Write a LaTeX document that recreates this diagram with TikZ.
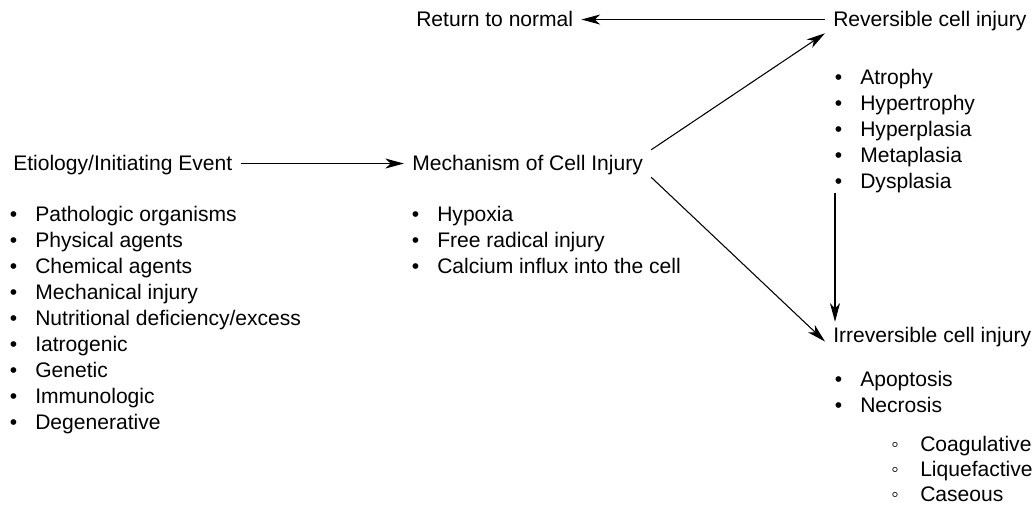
\documentclass[tikz,border=0pt]{standalone}
\usepackage{fontspec}
\setmainfont{Liberation Sans}
\usetikzlibrary{arrows.meta}

\begin{document}
\begin{tikzpicture}[x=0.75pt, y=-0.75pt,
		every node/.style={font=\fontsize{15.8}{19.5}\selectfont},
		head/.style={anchor=base west, inner xsep=6pt, inner ysep=4.5pt, text height=11.2pt, text depth=0pt},
		item/.style={anchor=base west, inner sep=0pt},
		link/.style={-{Stealth[length=14pt, width=7.5pt, inset=4pt]}, line width=0.8pt}]
		\useasboundingbox (0,0) rectangle (1035,505);

		\node[head] (eti) at (5,171) {Etiology/Initiating Event};
		\node[head] (mech) at (404,171) {Mechanism of Cell Injury};
		\node[head] (ret) at (408,27) {Return to normal};
		\node[head] (rev) at (825,27) {Reversible cell injury};
		\node[head] (irr) at (825,343) {Irreversible cell injury};

		% bullet lists
		\foreach \t [count=\i] in {Pathologic organisms, Physical agents, Chemical agents, Mechanical injury, Nutritional deficiency/excess, Iatrogenic, Genetic, Immunologic, Degenerative}
			\node[item] (cause\i) at (35,196+26*\i) {\llap{\textbullet\hspace{13.5pt}}\t};
		\foreach \t [count=\i] in {Hypoxia, Free radical injury, Calcium influx into the cell}
			\node[item] (mech\i) at (437,196+26*\i) {\llap{\textbullet\hspace{13.5pt}}\t};
		\foreach \t [count=\i] in {Atrophy, Hypertrophy, Hyperplasia, Metaplasia, Dysplasia}
			\node[item] (rev\i) at (860,59+26*\i) {\llap{\textbullet\hspace{13.5pt}}\t};
		\foreach \t [count=\i] in {Apoptosis, Necrosis}
			\node[item] (irr\i) at (860,361+26*\i) {\llap{\textbullet\hspace{13.5pt}}\t};
		\foreach \t [count=\i] in {Coagulative, Liquefactive, Caseous}
			\node[item] (nec\i) at (920,427+25*\i) {\llap{\char"25E6\hspace{16pt}}\t};

		\coordinate (dn) at (835,193);

		\draw[link] (eti) -- (mech);
		\draw[link] (rev) -- (ret);
		\draw[link] (mech.north east) -- (rev.south west);
		\draw[link] (mech.south east) -- ([yshift=-4.5pt]irr.west);
		\draw[link] (dn) -- (dn |- irr.north);

	\end{tikzpicture}
\end{document}
